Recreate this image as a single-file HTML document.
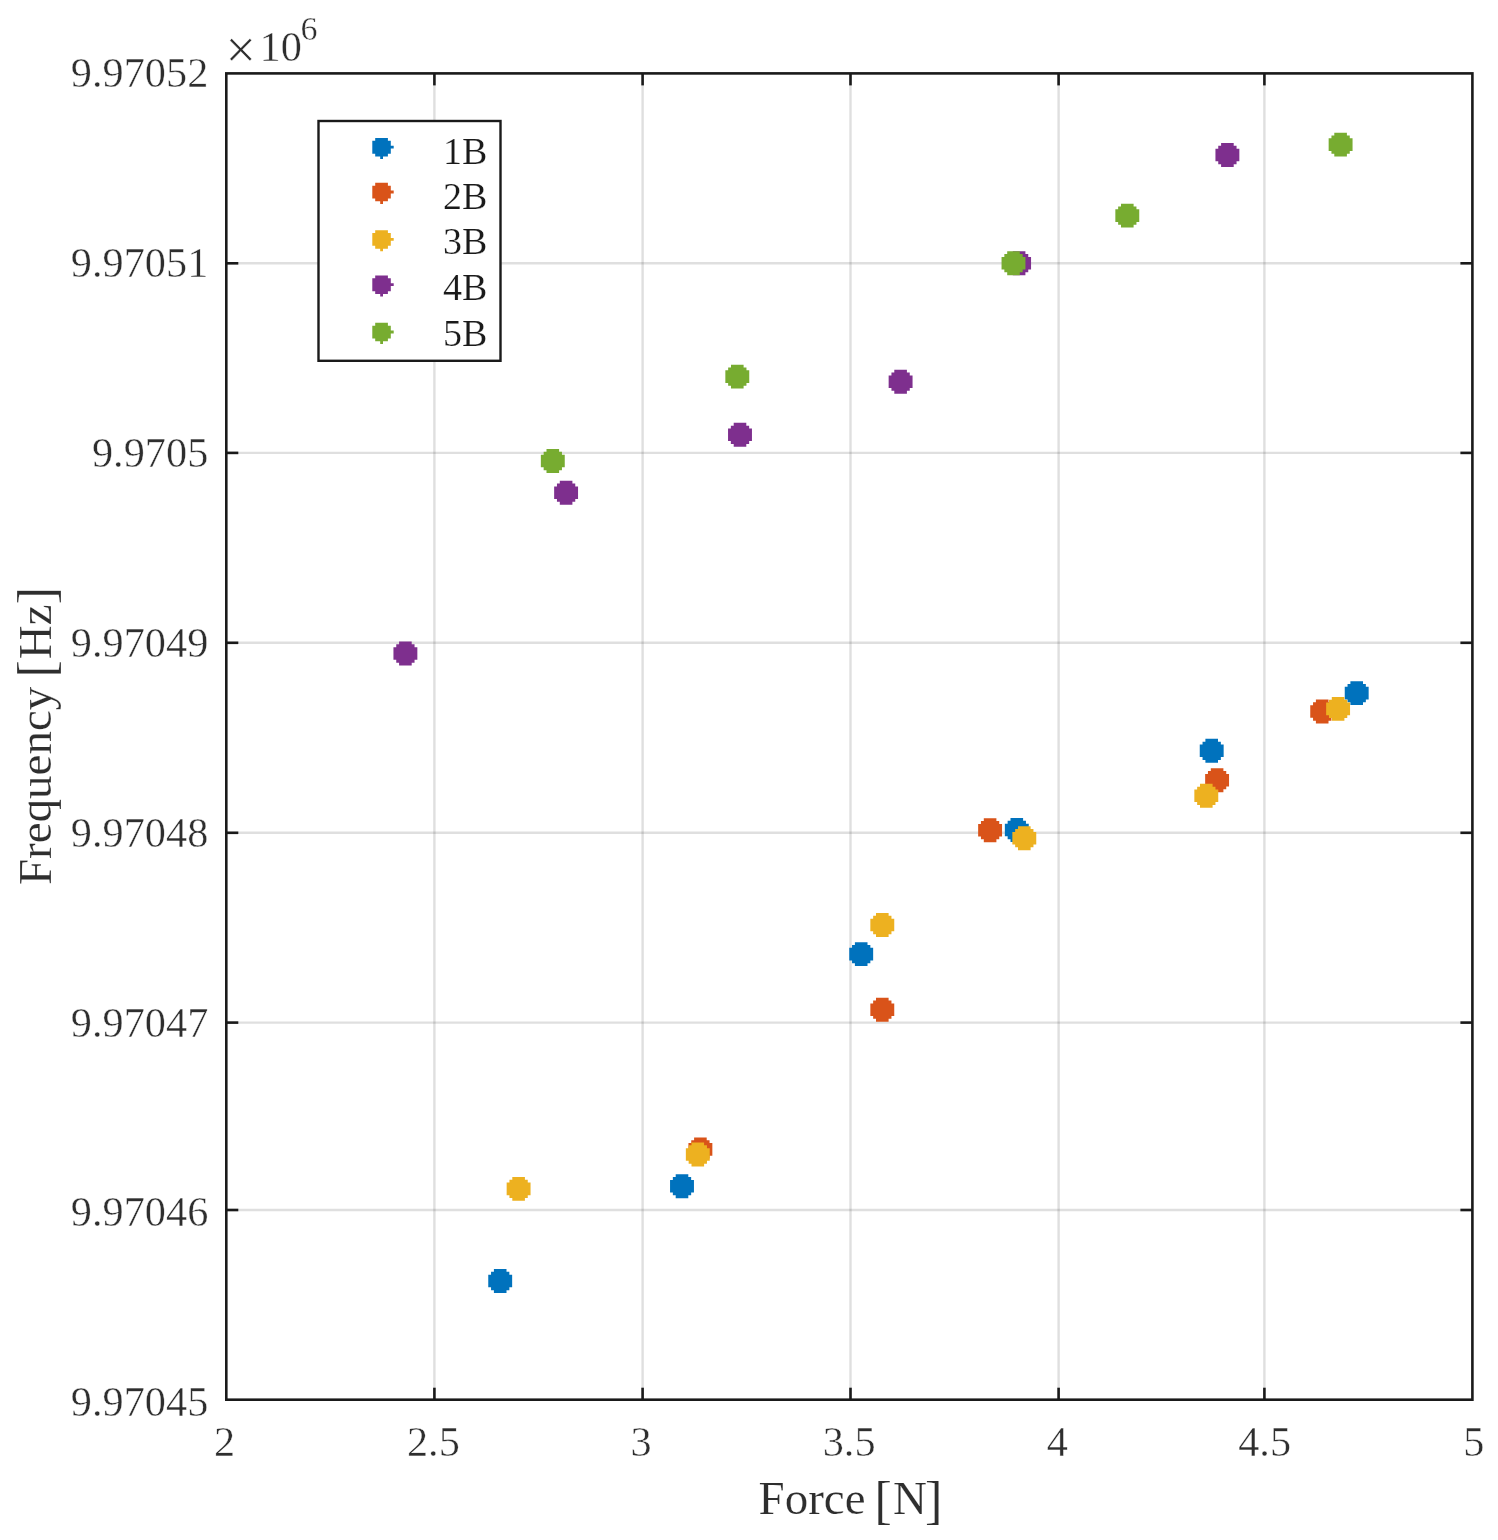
<!DOCTYPE html>
<html lang="en">
<head>
<meta charset="utf-8">
<title>Frequency vs Force</title>
<style>
html,body{margin:0;padding:0;background:#fff;}
body{width:1498px;height:1540px;overflow:hidden;}
svg{display:block;}
text{font-family:"Liberation Serif","DejaVu Serif",serif;fill:#2e2e2e;stroke:#fff;stroke-width:0.4px;paint-order:fill stroke;}
.leg text{fill:#1a1a1a;}
text.lab{fill:#2e2e2e;stroke-width:0.2px;}
.leg text{stroke-width:0.2px;}
</style>
</head>
<body>
<svg width="1498" height="1540" viewBox="0 0 1498 1540">
<rect x="0" y="0" width="1498" height="1540" fill="#fff"/>
<g stroke="#262626" stroke-opacity="0.15" stroke-width="2.4" fill="none">
<line x1="434.4" y1="73.4" x2="434.4" y2="1399.7"/>
<line x1="642.6" y1="73.4" x2="642.6" y2="1399.7"/>
<line x1="850.5" y1="73.4" x2="850.5" y2="1399.7"/>
<line x1="1058.6" y1="73.4" x2="1058.6" y2="1399.7"/>
<line x1="1264.4" y1="73.4" x2="1264.4" y2="1399.7"/>
<line x1="226.3" y1="263.3" x2="1472.4" y2="263.3"/>
<line x1="226.3" y1="452.9" x2="1472.4" y2="452.9"/>
<line x1="226.3" y1="642.8" x2="1472.4" y2="642.8"/>
<line x1="226.3" y1="832.8" x2="1472.4" y2="832.8"/>
<line x1="226.3" y1="1022.6" x2="1472.4" y2="1022.6"/>
<line x1="226.3" y1="1210.0" x2="1472.4" y2="1210.0"/>
</g>
<g stroke="#1a1a1a" stroke-width="2.6" fill="none">
<line x1="434.4" y1="1399.7" x2="434.4" y2="1387.7"/>
<line x1="434.4" y1="73.4" x2="434.4" y2="85.4"/>
<line x1="642.6" y1="1399.7" x2="642.6" y2="1387.7"/>
<line x1="642.6" y1="73.4" x2="642.6" y2="85.4"/>
<line x1="850.5" y1="1399.7" x2="850.5" y2="1387.7"/>
<line x1="850.5" y1="73.4" x2="850.5" y2="85.4"/>
<line x1="1058.6" y1="1399.7" x2="1058.6" y2="1387.7"/>
<line x1="1058.6" y1="73.4" x2="1058.6" y2="85.4"/>
<line x1="1264.4" y1="1399.7" x2="1264.4" y2="1387.7"/>
<line x1="1264.4" y1="73.4" x2="1264.4" y2="85.4"/>
<line x1="226.3" y1="263.3" x2="238.3" y2="263.3"/>
<line x1="1472.4" y1="263.3" x2="1460.4" y2="263.3"/>
<line x1="226.3" y1="452.9" x2="238.3" y2="452.9"/>
<line x1="1472.4" y1="452.9" x2="1460.4" y2="452.9"/>
<line x1="226.3" y1="642.8" x2="238.3" y2="642.8"/>
<line x1="1472.4" y1="642.8" x2="1460.4" y2="642.8"/>
<line x1="226.3" y1="832.8" x2="238.3" y2="832.8"/>
<line x1="1472.4" y1="832.8" x2="1460.4" y2="832.8"/>
<line x1="226.3" y1="1022.6" x2="238.3" y2="1022.6"/>
<line x1="1472.4" y1="1022.6" x2="1460.4" y2="1022.6"/>
<line x1="226.3" y1="1210.0" x2="238.3" y2="1210.0"/>
<line x1="1472.4" y1="1210.0" x2="1460.4" y2="1210.0"/>
<rect x="226.3" y="73.4" width="1246.1" height="1326.3"/>
</g>
<g fill="#0072BD">
<path d="M493.90 1269.05 L506.50 1269.05 L506.50 1271.85 L509.35 1271.85 L509.35 1274.70 L512.15 1274.70 L512.15 1287.30 L509.35 1287.30 L509.35 1290.15 L506.50 1290.15 L506.50 1292.95 L493.90 1292.95 L493.90 1290.15 L491.05 1290.15 L491.05 1287.30 L488.25 1287.30 L488.25 1274.70 L491.05 1274.70 L491.05 1271.85 L493.90 1271.85 Z"/>
<path d="M675.70 1174.25 L688.30 1174.25 L688.30 1177.05 L691.15 1177.05 L691.15 1179.90 L693.95 1179.90 L693.95 1192.50 L691.15 1192.50 L691.15 1195.35 L688.30 1195.35 L688.30 1198.15 L675.70 1198.15 L675.70 1195.35 L672.85 1195.35 L672.85 1192.50 L670.05 1192.50 L670.05 1179.90 L672.85 1179.90 L672.85 1177.05 L675.70 1177.05 Z"/>
<path d="M854.90 942.15 L867.50 942.15 L867.50 944.95 L870.35 944.95 L870.35 947.80 L873.15 947.80 L873.15 960.40 L870.35 960.40 L870.35 963.25 L867.50 963.25 L867.50 966.05 L854.90 966.05 L854.90 963.25 L852.05 963.25 L852.05 960.40 L849.25 960.40 L849.25 947.80 L852.05 947.80 L852.05 944.95 L854.90 944.95 Z"/>
<path d="M1010.50 818.05 L1023.10 818.05 L1023.10 820.85 L1025.95 820.85 L1025.95 823.70 L1028.75 823.70 L1028.75 836.30 L1025.95 836.30 L1025.95 839.15 L1023.10 839.15 L1023.10 841.95 L1010.50 841.95 L1010.50 839.15 L1007.65 839.15 L1007.65 836.30 L1004.85 836.30 L1004.85 823.70 L1007.65 823.70 L1007.65 820.85 L1010.50 820.85 Z"/>
<path d="M1205.40 738.85 L1218.00 738.85 L1218.00 741.65 L1220.85 741.65 L1220.85 744.50 L1223.65 744.50 L1223.65 757.10 L1220.85 757.10 L1220.85 759.95 L1218.00 759.95 L1218.00 762.75 L1205.40 762.75 L1205.40 759.95 L1202.55 759.95 L1202.55 757.10 L1199.75 757.10 L1199.75 744.50 L1202.55 744.50 L1202.55 741.65 L1205.40 741.65 Z"/>
<path d="M1350.40 681.15 L1363.00 681.15 L1363.00 683.95 L1365.85 683.95 L1365.85 686.80 L1368.65 686.80 L1368.65 699.40 L1365.85 699.40 L1365.85 702.25 L1363.00 702.25 L1363.00 705.05 L1350.40 705.05 L1350.40 702.25 L1347.55 702.25 L1347.55 699.40 L1344.75 699.40 L1344.75 686.80 L1347.55 686.80 L1347.55 683.95 L1350.40 683.95 Z"/>
</g>
<g fill="#D95319">
<path d="M694.10 1137.45 L706.70 1137.45 L706.70 1140.25 L709.55 1140.25 L709.55 1143.10 L712.35 1143.10 L712.35 1155.70 L709.55 1155.70 L709.55 1158.55 L706.70 1158.55 L706.70 1161.35 L694.10 1161.35 L694.10 1158.55 L691.25 1158.55 L691.25 1155.70 L688.45 1155.70 L688.45 1143.10 L691.25 1143.10 L691.25 1140.25 L694.10 1140.25 Z"/>
<path d="M876.00 997.75 L888.60 997.75 L888.60 1000.55 L891.45 1000.55 L891.45 1003.40 L894.25 1003.40 L894.25 1016.00 L891.45 1016.00 L891.45 1018.85 L888.60 1018.85 L888.60 1021.65 L876.00 1021.65 L876.00 1018.85 L873.15 1018.85 L873.15 1016.00 L870.35 1016.00 L870.35 1003.40 L873.15 1003.40 L873.15 1000.55 L876.00 1000.55 Z"/>
<path d="M983.80 818.25 L996.40 818.25 L996.40 821.05 L999.25 821.05 L999.25 823.90 L1002.05 823.90 L1002.05 836.50 L999.25 836.50 L999.25 839.35 L996.40 839.35 L996.40 842.15 L983.80 842.15 L983.80 839.35 L980.95 839.35 L980.95 836.50 L978.15 836.50 L978.15 823.90 L980.95 823.90 L980.95 821.05 L983.80 821.05 Z"/>
<path d="M1210.80 768.25 L1223.40 768.25 L1223.40 771.05 L1226.25 771.05 L1226.25 773.90 L1229.05 773.90 L1229.05 786.50 L1226.25 786.50 L1226.25 789.35 L1223.40 789.35 L1223.40 792.15 L1210.80 792.15 L1210.80 789.35 L1207.95 789.35 L1207.95 786.50 L1205.15 786.50 L1205.15 773.90 L1207.95 773.90 L1207.95 771.05 L1210.80 771.05 Z"/>
<path d="M1315.90 699.55 L1328.50 699.55 L1328.50 702.35 L1331.35 702.35 L1331.35 705.20 L1334.15 705.20 L1334.15 717.80 L1331.35 717.80 L1331.35 720.65 L1328.50 720.65 L1328.50 723.45 L1315.90 723.45 L1315.90 720.65 L1313.05 720.65 L1313.05 717.80 L1310.25 717.80 L1310.25 705.20 L1313.05 705.20 L1313.05 702.35 L1315.90 702.35 Z"/>
</g>
<g fill="#EDB120">
<path d="M512.30 1176.95 L524.90 1176.95 L524.90 1179.75 L527.75 1179.75 L527.75 1182.60 L530.55 1182.60 L530.55 1195.20 L527.75 1195.20 L527.75 1198.05 L524.90 1198.05 L524.90 1200.85 L512.30 1200.85 L512.30 1198.05 L509.45 1198.05 L509.45 1195.20 L506.65 1195.20 L506.65 1182.60 L509.45 1182.60 L509.45 1179.75 L512.30 1179.75 Z"/>
<path d="M691.50 1142.55 L704.10 1142.55 L704.10 1145.35 L706.95 1145.35 L706.95 1148.20 L709.75 1148.20 L709.75 1160.80 L706.95 1160.80 L706.95 1163.65 L704.10 1163.65 L704.10 1166.45 L691.50 1166.45 L691.50 1163.65 L688.65 1163.65 L688.65 1160.80 L685.85 1160.80 L685.85 1148.20 L688.65 1148.20 L688.65 1145.35 L691.50 1145.35 Z"/>
<path d="M876.00 913.05 L888.60 913.05 L888.60 915.85 L891.45 915.85 L891.45 918.70 L894.25 918.70 L894.25 931.30 L891.45 931.30 L891.45 934.15 L888.60 934.15 L888.60 936.95 L876.00 936.95 L876.00 934.15 L873.15 934.15 L873.15 931.30 L870.35 931.30 L870.35 918.70 L873.15 918.70 L873.15 915.85 L876.00 915.85 Z"/>
<path d="M1018.00 826.25 L1030.60 826.25 L1030.60 829.05 L1033.45 829.05 L1033.45 831.90 L1036.25 831.90 L1036.25 844.50 L1033.45 844.50 L1033.45 847.35 L1030.60 847.35 L1030.60 850.15 L1018.00 850.15 L1018.00 847.35 L1015.15 847.35 L1015.15 844.50 L1012.35 844.50 L1012.35 831.90 L1015.15 831.90 L1015.15 829.05 L1018.00 829.05 Z"/>
<path d="M1200.00 783.85 L1212.60 783.85 L1212.60 786.65 L1215.45 786.65 L1215.45 789.50 L1218.25 789.50 L1218.25 802.10 L1215.45 802.10 L1215.45 804.95 L1212.60 804.95 L1212.60 807.75 L1200.00 807.75 L1200.00 804.95 L1197.15 804.95 L1197.15 802.10 L1194.35 802.10 L1194.35 789.50 L1197.15 789.50 L1197.15 786.65 L1200.00 786.65 Z"/>
<path d="M1331.80 696.95 L1344.40 696.95 L1344.40 699.75 L1347.25 699.75 L1347.25 702.60 L1350.05 702.60 L1350.05 715.20 L1347.25 715.20 L1347.25 718.05 L1344.40 718.05 L1344.40 720.85 L1331.80 720.85 L1331.80 718.05 L1328.95 718.05 L1328.95 715.20 L1326.15 715.20 L1326.15 702.60 L1328.95 702.60 L1328.95 699.75 L1331.80 699.75 Z"/>
</g>
<g fill="#7E2F8E">
<path d="M399.10 641.55 L411.70 641.55 L411.70 644.35 L414.55 644.35 L414.55 647.20 L417.35 647.20 L417.35 659.80 L414.55 659.80 L414.55 662.65 L411.70 662.65 L411.70 665.45 L399.10 665.45 L399.10 662.65 L396.25 662.65 L396.25 659.80 L393.45 659.80 L393.45 647.20 L396.25 647.20 L396.25 644.35 L399.10 644.35 Z"/>
<path d="M559.80 480.75 L572.40 480.75 L572.40 483.55 L575.25 483.55 L575.25 486.40 L578.05 486.40 L578.05 499.00 L575.25 499.00 L575.25 501.85 L572.40 501.85 L572.40 504.65 L559.80 504.65 L559.80 501.85 L556.95 501.85 L556.95 499.00 L554.15 499.00 L554.15 486.40 L556.95 486.40 L556.95 483.55 L559.80 483.55 Z"/>
<path d="M733.70 422.85 L746.30 422.85 L746.30 425.65 L749.15 425.65 L749.15 428.50 L751.95 428.50 L751.95 441.10 L749.15 441.10 L749.15 443.95 L746.30 443.95 L746.30 446.75 L733.70 446.75 L733.70 443.95 L730.85 443.95 L730.85 441.10 L728.05 441.10 L728.05 428.50 L730.85 428.50 L730.85 425.65 L733.70 425.65 Z"/>
<path d="M894.30 369.75 L906.90 369.75 L906.90 372.55 L909.75 372.55 L909.75 375.40 L912.55 375.40 L912.55 388.00 L909.75 388.00 L909.75 390.85 L906.90 390.85 L906.90 393.65 L894.30 393.65 L894.30 390.85 L891.45 390.85 L891.45 388.00 L888.65 388.00 L888.65 375.40 L891.45 375.40 L891.45 372.55 L894.30 372.55 Z"/>
<path d="M1012.80 251.25 L1025.40 251.25 L1025.40 254.05 L1028.25 254.05 L1028.25 256.90 L1031.05 256.90 L1031.05 269.50 L1028.25 269.50 L1028.25 272.35 L1025.40 272.35 L1025.40 275.15 L1012.80 275.15 L1012.80 272.35 L1009.95 272.35 L1009.95 269.50 L1007.15 269.50 L1007.15 256.90 L1009.95 256.90 L1009.95 254.05 L1012.80 254.05 Z"/>
<path d="M1221.10 143.05 L1233.70 143.05 L1233.70 145.85 L1236.55 145.85 L1236.55 148.70 L1239.35 148.70 L1239.35 161.30 L1236.55 161.30 L1236.55 164.15 L1233.70 164.15 L1233.70 166.95 L1221.10 166.95 L1221.10 164.15 L1218.25 164.15 L1218.25 161.30 L1215.45 161.30 L1215.45 148.70 L1218.25 148.70 L1218.25 145.85 L1221.10 145.85 Z"/>
</g>
<g fill="#77AC30">
<path d="M546.50 449.05 L559.10 449.05 L559.10 451.85 L561.95 451.85 L561.95 454.70 L564.75 454.70 L564.75 467.30 L561.95 467.30 L561.95 470.15 L559.10 470.15 L559.10 472.95 L546.50 472.95 L546.50 470.15 L543.65 470.15 L543.65 467.30 L540.85 467.30 L540.85 454.70 L543.65 454.70 L543.65 451.85 L546.50 451.85 Z"/>
<path d="M731.00 364.65 L743.60 364.65 L743.60 367.45 L746.45 367.45 L746.45 370.30 L749.25 370.30 L749.25 382.90 L746.45 382.90 L746.45 385.75 L743.60 385.75 L743.60 388.55 L731.00 388.55 L731.00 385.75 L728.15 385.75 L728.15 382.90 L725.35 382.90 L725.35 370.30 L728.15 370.30 L728.15 367.45 L731.00 367.45 Z"/>
<path d="M1007.20 251.25 L1019.80 251.25 L1019.80 254.05 L1022.65 254.05 L1022.65 256.90 L1025.45 256.90 L1025.45 269.50 L1022.65 269.50 L1022.65 272.35 L1019.80 272.35 L1019.80 275.15 L1007.20 275.15 L1007.20 272.35 L1004.35 272.35 L1004.35 269.50 L1001.55 269.50 L1001.55 256.90 L1004.35 256.90 L1004.35 254.05 L1007.20 254.05 Z"/>
<path d="M1121.00 203.65 L1133.60 203.65 L1133.60 206.45 L1136.45 206.45 L1136.45 209.30 L1139.25 209.30 L1139.25 221.90 L1136.45 221.90 L1136.45 224.75 L1133.60 224.75 L1133.60 227.55 L1121.00 227.55 L1121.00 224.75 L1118.15 224.75 L1118.15 221.90 L1115.35 221.90 L1115.35 209.30 L1118.15 209.30 L1118.15 206.45 L1121.00 206.45 Z"/>
<path d="M1334.30 132.65 L1346.90 132.65 L1346.90 135.45 L1349.75 135.45 L1349.75 138.30 L1352.55 138.30 L1352.55 150.90 L1349.75 150.90 L1349.75 153.75 L1346.90 153.75 L1346.90 156.55 L1334.30 156.55 L1334.30 153.75 L1331.45 153.75 L1331.45 150.90 L1328.65 150.90 L1328.65 138.30 L1331.45 138.30 L1331.45 135.45 L1334.30 135.45 Z"/>
</g>
<g font-size="42.3" text-anchor="middle">
<text x="224.5" y="1456.4">2</text>
<text x="433.4" y="1456.4">2.5</text>
<text x="641.1" y="1456.4">3</text>
<text x="849.1" y="1456.4">3.5</text>
<text x="1057.3" y="1456.4">4</text>
<text x="1264.6" y="1456.4">4.5</text>
<text x="1473.9" y="1456.4">5</text>
</g>
<g font-size="42.3" text-anchor="end">
<text x="208.3" y="87.4">9.97052</text>
<text x="208.3" y="277.2">9.97051</text>
<text x="208.3" y="467.1">9.9705</text>
<text x="208.3" y="656.9">9.97049</text>
<text x="208.3" y="846.8">9.97048</text>
<text x="208.3" y="1036.6">9.97047</text>
<text x="208.3" y="1226.4">9.97046</text>
<text x="208.3" y="1416.3">9.97045</text>
</g>
<text x="225.5" y="68.1" font-size="54" fill="#686868">×</text>
<text x="259.5" y="61.1" font-size="42.3">10</text>
<text x="300.6" y="40.1" font-size="34">6</text>
<text class="lab" x="758.5" y="1514.2" font-size="47">Force <tspan font-size="52.8" dx="-2.95" dy="3.5">[</tspan><tspan dx="1" dy="-3.5">N</tspan><tspan font-size="52.8" dx="-1.85" dy="3.5">]</tspan></text>
<text class="lab" transform="translate(50.6,737) rotate(-90)" x="-148.1" y="0" font-size="47">Frequency <tspan font-size="52.8" dx="-2.7" dy="3.5">[</tspan><tspan dx="0.8" dy="-3.5">Hz</tspan><tspan font-size="52.8" dx="0.1" dy="3.5">]</tspan></text>
<g class="leg">
<rect x="318.5" y="121" width="182" height="239.8" fill="#fff" stroke="#1a1a1a" stroke-width="2.4"/>
<path d="M375.20 137.95 L387.90 137.95 L387.90 140.75 L390.80 140.75 L390.80 145.70 L393.70 145.70 L393.70 148.60 L390.80 148.60 L390.80 153.65 L387.90 153.65 L387.90 156.45 L383.00 156.45 L383.00 159.00 L380.20 159.00 L380.20 156.45 L375.20 156.45 L375.20 153.65 L372.30 153.65 L372.30 140.75 L375.20 140.75 Z" fill="#0072BD"/>
<text x="443" y="164.1" font-size="38">1B</text>
<path d="M375.20 182.85 L387.90 182.85 L387.90 185.65 L390.80 185.65 L390.80 190.60 L393.70 190.60 L393.70 193.50 L390.80 193.50 L390.80 198.55 L387.90 198.55 L387.90 201.35 L383.00 201.35 L383.00 203.90 L380.20 203.90 L380.20 201.35 L375.20 201.35 L375.20 198.55 L372.30 198.55 L372.30 185.65 L375.20 185.65 Z" fill="#D95319"/>
<text x="443" y="208.8" font-size="38">2B</text>
<path d="M375.20 230.15 L387.90 230.15 L387.90 232.95 L390.80 232.95 L390.80 237.90 L393.70 237.90 L393.70 240.80 L390.80 240.80 L390.80 245.85 L387.90 245.85 L387.90 248.65 L383.00 248.65 L383.00 251.20 L380.20 251.20 L380.20 248.65 L375.20 248.65 L375.20 245.85 L372.30 245.85 L372.30 232.95 L375.20 232.95 Z" fill="#EDB120"/>
<text x="443" y="253.7" font-size="38">3B</text>
<path d="M375.20 275.45 L387.90 275.45 L387.90 278.25 L390.80 278.25 L390.80 283.20 L393.70 283.20 L393.70 286.10 L390.80 286.10 L390.80 291.15 L387.90 291.15 L387.90 293.95 L383.00 293.95 L383.00 296.50 L380.20 296.50 L380.20 293.95 L375.20 293.95 L375.20 291.15 L372.30 291.15 L372.30 278.25 L375.20 278.25 Z" fill="#7E2F8E"/>
<text x="443" y="300.4" font-size="38">4B</text>
<path d="M375.20 322.85 L387.90 322.85 L387.90 325.65 L390.80 325.65 L390.80 330.60 L393.70 330.60 L393.70 333.50 L390.80 333.50 L390.80 338.55 L387.90 338.55 L387.90 341.35 L383.00 341.35 L383.00 343.90 L380.20 343.90 L380.20 341.35 L375.20 341.35 L375.20 338.55 L372.30 338.55 L372.30 325.65 L375.20 325.65 Z" fill="#77AC30"/>
<text x="443" y="345.8" font-size="38">5B</text>
</g>
</svg>
</body>
</html>
